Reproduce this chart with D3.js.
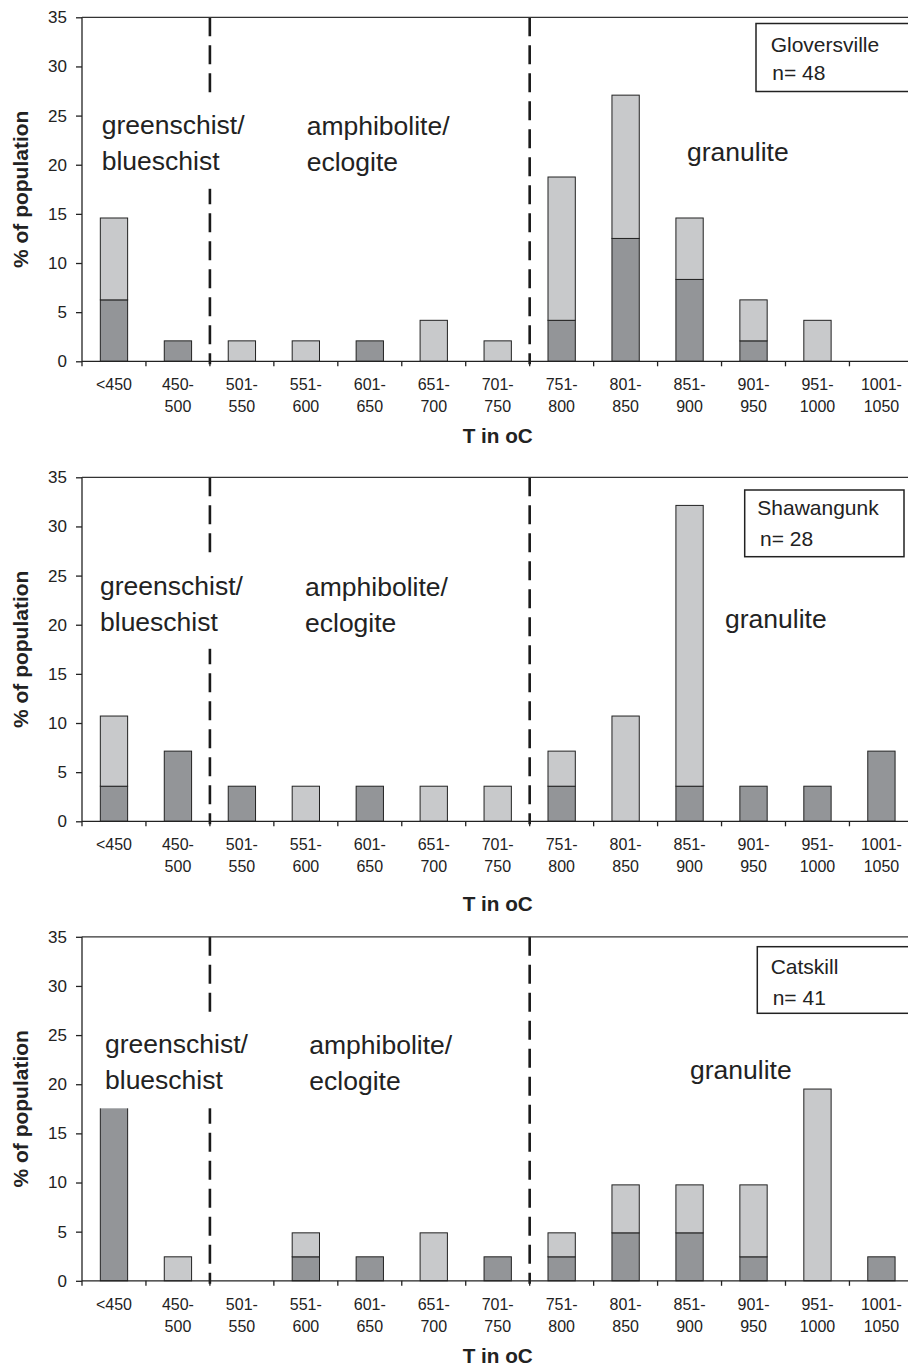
<!DOCTYPE html>
<html>
<head>
<meta charset="utf-8">
<script src="https://cdn.jsdelivr.net/npm/d3@7"></script>
<style>
  html, body { margin: 0; padding: 0; background: #fff; }
  svg { display: block; }
  text { font-family: "Liberation Sans", Arial, sans-serif; fill: #222; }
</style>
</head>
<body>
<script>
// ---------------- data ----------------
const categories = ["<450","450-500","501-550","551-600","601-650","651-700","701-750",
                    "751-800","801-850","851-900","901-950","951-1000","1001-1050"];
const yTicks = [0, 5, 10, 15, 20, 25, 30, 35];
const siteNames = ["Gloversville", "Shawangunk", "Catskill"];
const siteCounts = [48, 28, 41];
// dark (lower) and light (upper, stacked) portions, % of population
const gloversvilleDark  = [6.25, 2.08, 0, 0, 2.08, 0, 0, 4.17, 12.5, 8.33, 2.08, 0, 0];
const gloversvilleLight = [8.33, 0, 2.08, 2.08, 0, 4.17, 2.08, 14.58, 14.58, 6.25, 4.17, 4.17, 0];
const shawangunkDark    = [3.57, 7.14, 3.57, 0, 3.57, 0, 0, 3.57, 0, 3.57, 3.57, 3.57, 7.14];
const shawangunkLight   = [7.14, 0, 0, 3.57, 0, 3.57, 3.57, 3.57, 10.71, 28.57, 0, 0, 0];
const catskillDark      = [26.83, 0, 0, 2.44, 2.44, 0, 2.44, 2.44, 4.88, 4.88, 2.44, 0, 2.44];
const catskillLight     = [0, 2.44, 0, 2.44, 0, 4.88, 0, 2.44, 4.88, 4.88, 7.32, 19.51, 0];
const zoneBoundaries = ["501-550", "751-800"];
const zoneLow = ["greenschist/", "blueschist"];
const zoneMid = ["amphibolite/", "eclogite"];
const zoneHigh = "granulite";
const yTitle = "% of population";
const xTitle = "T in oC";

const darkSeries = [gloversvilleDark, shawangunkDark, catskillDark];
const lightSeries = [gloversvilleLight, shawangunkLight, catskillLight];

// ---------------- layout ----------------
const W = 908, H = 1369;
const plotLeft = 82, plotRight = 913.4, plotH = 344;
const panelTops = [17.3, 477.3, 936.8];
const lowX = [101.7, 100, 105];
const midX = [306.7, 305, 309.3];
const zoneBase = [116.7, 117.7, 116.6];
const highX = [687, 725, 690];
const highBase = [143.7, 151, 142.6];
const boxX = [756, 744.7, 757.3], boxY = [6.2, 12.7, 9.9], boxW = [170, 159.3, 170], boxH = [68, 66.7, 66.6];
const legTX = [14.7, 12.6, 13.4], legNX = [16.3, 15.3, 15.4], legB1 = [28.3, 25, 27.6], legB2 = [56.7, 56, 58.3];
const xTitleBase = [82, 89.5, 82.5];
const zoneFont = 26.5;

const COL_DARK = "#939598", COL_LIGHT = "#c8c9cb", INK = "#222";

const svg = d3.select("body").append("svg").attr("width", W).attr("height", H);

const x = d3.scaleBand().domain(categories).range([plotLeft, plotRight]).paddingInner(0).paddingOuter(0);
const bw = x.bandwidth();
const barW = bw * 0.427;

siteNames.forEach((name, p) => {
  const top = panelTops[p];
  const y = d3.scaleLinear().domain([0, 35]).range([top + plotH, top]);
  const g = svg.append("g");
  const rows = categories.map((c, i) => ({ c, dark: darkSeries[p][i], light: lightSeries[p][i] }));

  // bars (stacked)
  const bx = d => x(d.c) + (bw - barW) / 2;
  g.selectAll("rect.dark").data(rows.filter(d => d.dark > 0)).enter().append("rect")
    .attr("x", bx).attr("width", barW)
    .attr("y", d => y(d.dark)).attr("height", d => y(0) - y(d.dark))
    .attr("fill", COL_DARK).attr("stroke", INK).attr("stroke-width", 1);
  g.selectAll("rect.light").data(rows.filter(d => d.light > 0)).enter().append("rect")
    .attr("x", bx).attr("width", barW)
    .attr("y", d => y(d.dark + d.light)).attr("height", d => y(d.dark) - y(d.dark + d.light))
    .attr("fill", COL_LIGHT).attr("stroke", INK).attr("stroke-width", 1);

  // dashed zone boundaries
  zoneBoundaries.forEach(b => {
    g.append("line").attr("x1", x(b)).attr("x2", x(b))
      .attr("y1", y(35)).attr("y2", y(0) + 3)
      .attr("stroke", "#1a1a1a").attr("stroke-width", 2.6)
      .attr("stroke-dasharray", "19,9");
  });

  // white text box for the low-grade label (covers line & tall bar)
  g.append("rect").attr("x", 95).attr("y", top + 77).attr("width", 165).attr("height", 94.5)
    .attr("fill", "#fff");

  // axes
  const yAxis = d3.axisLeft(y).tickValues(yTicks).tickSize(6).tickPadding(9);
  const ya = g.append("g").attr("transform", `translate(${plotLeft},0)`).call(yAxis);
  ya.select(".domain").attr("stroke", INK).attr("stroke-width", 1.3)
    .attr("d", `M0,${y(35)}V${y(0) + 5}`);
  ya.selectAll(".tick line").attr("stroke", INK).attr("stroke-width", 1.3);
  ya.selectAll(".tick text").attr("font-size", 17).attr("fill", INK)
    .attr("font-family", "'Liberation Sans', Arial, sans-serif");

  // x axis baseline and ticks at band boundaries
  g.append("line").attr("x1", plotLeft).attr("x2", W).attr("y1", y(0)).attr("y2", y(0))
    .attr("stroke", INK).attr("stroke-width", 1.3);
  g.selectAll("line.xt").data(categories.slice(1)).enter().append("line")
    .attr("x1", d => x(d)).attr("x2", d => x(d))
    .attr("y1", y(0)).attr("y2", y(0) + 5)
    .attr("stroke", INK).attr("stroke-width", 1.3);
  // top border
  g.append("line").attr("x1", plotLeft).attr("x2", W).attr("y1", y(35)).attr("y2", y(35))
    .attr("stroke", "#333").attr("stroke-width", 1.2);

  // x tick labels (two lines)
  categories.forEach(c => {
    const parts = c.indexOf("-") > 0 ? [c.slice(0, c.indexOf("-") + 1), c.slice(c.indexOf("-") + 1)] : [c];
    const t = g.append("text").attr("text-anchor", "middle").attr("font-size", 16);
    parts.forEach((s, k) => {
      t.append("tspan").attr("x", x(c) + bw / 2).attr("y", y(0) + 29 + k * 21.7).text(s);
    });
  });

  // axis titles
  g.append("text").attr("text-anchor", "middle").attr("font-size", 21).attr("font-weight", "bold")
    .attr("transform", `translate(27.5,${top + plotH / 2}) rotate(-90)`).text(yTitle);
  g.append("text").attr("text-anchor", "middle").attr("font-size", 20.7).attr("font-weight", "bold")
    .attr("x", (plotLeft + plotRight) / 2).attr("y", y(0) + xTitleBase[p]).text(xTitle);

  // zone labels
  zoneLow.forEach((s, k) => g.append("text").attr("x", lowX[p]).attr("y", top + zoneBase[p] + k * 36)
    .attr("font-size", zoneFont).text(s));
  zoneMid.forEach((s, k) => g.append("text").attr("x", midX[p]).attr("y", top + zoneBase[p] + 1 + k * 36)
    .attr("font-size", zoneFont).text(s));
  g.append("text").attr("x", highX[p]).attr("y", top + highBase[p]).attr("font-size", zoneFont).text(zoneHigh);

  // legend box
  g.append("rect").attr("x", boxX[p]).attr("y", top + boxY[p]).attr("width", boxW[p]).attr("height", boxH[p])
    .attr("fill", "#fff").attr("stroke", INK).attr("stroke-width", 1.5);
  g.append("text").attr("x", boxX[p] + legTX[p]).attr("y", top + boxY[p] + legB1[p])
    .attr("font-size", 21).text(name);
  g.append("text").attr("x", boxX[p] + legNX[p]).attr("y", top + boxY[p] + legB2[p])
    .attr("font-size", 21).text("n= " + siteCounts[p]);
});
</script>
</body>
</html>
